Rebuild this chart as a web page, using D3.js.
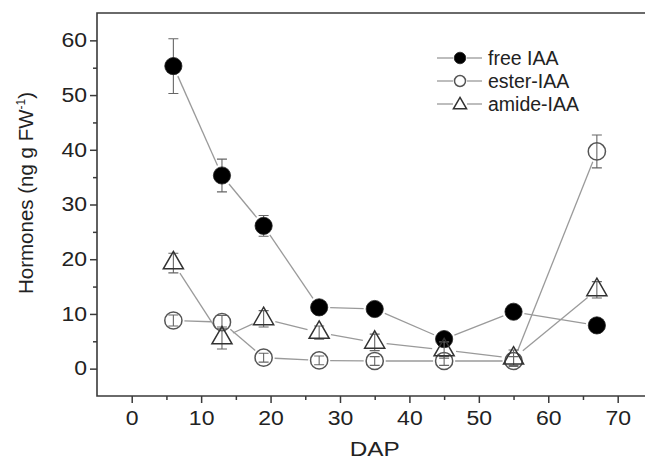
<!DOCTYPE html>
<html lang="en">
<head>
<meta charset="UTF-8">
<title>IAA</title>
<script src="https://cdnjs.cloudflare.com/ajax/libs/d3/7.8.2/d3.min.js"></script>
<style>
    body { margin: 0; background: #fff; }
    svg { display: block; font-family: "Liberation Sans", Arial, sans-serif; }
</style>
</head>
<body>
<div class="container"></div>
<script>
    // data
    let days = [6, 13, 19, 27, 35, 45, 55, 67];
    let freeIAA = [55.3, 35.3, 26.1, 11.2, 10.9, 5.4, 10.4, 7.9];
    let freeErr = [5.0, 3.0, 1.9, 0.8, 0.6, 0.6, 0.6, 0.5];
    let esterIAA = [8.8, 8.5, 2.0, 1.5, 1.4, 1.4, 1.4, 39.7];
    let esterErr = [1.0, 1.2, 0.8, 0.8, 0.8, 0.8, 0.8, 3.0];
    let amideIAA = [19.3, 5.6, 9.1, 6.6, 4.8, 3.4, 1.9, 14.4];
    let amideErr = [1.8, 2.0, 1.5, 1.2, 1.5, 1.5, 1.5, 1.5];
    let seriesNames = ['free IAA', 'ester-IAA', 'amide-IAA'];
    let xTicks = [0, 10, 20, 30, 40, 50, 60, 70];
    let yTicks = [0, 10, 20, 30, 40, 50, 60];

    let width = 645;
    let height = 461;
    let plotLeft = 97, plotTop = 13, plotBottom = 396;

    let svg = d3.select('.container').append('svg')
        .attr('width', width).attr('height', height);

    let xScale = d3.scaleLinear().domain([-5, 75]).range([plotLeft, 652.4]);
    let yScale = d3.scaleLinear().domain([-5, 65]).range([plotBottom, plotTop]);

    const axisColor = '#3a3a3a';
    const lineColor = '#9a9a9a';
    const markColor = '#555';

    // minor ticks
    let xAxisMinor = d3.axisBottom(xScale).tickValues(d3.range(5, 70, 10)).tickSize(4).tickFormat('');
    let yAxisMinor = d3.axisLeft(yScale).tickValues(d3.range(5, 60, 10)).tickSize(4).tickFormat('');
    svg.append('g').attr('transform', `translate(0,${plotBottom})`).call(xAxisMinor);
    svg.append('g').attr('transform', `translate(${plotLeft},0)`).call(yAxisMinor);

    let xAxis = d3.axisBottom(xScale).tickValues(xTicks).tickSize(7).tickPadding(8);
    let yAxis = d3.axisLeft(yScale).tickValues(yTicks).tickSize(7).tickPadding(3);
    svg.append('g').attr('class', 'ax').attr('transform', `translate(0,${plotBottom})`).call(xAxis);
    svg.append('g').attr('class', 'ax').attr('transform', `translate(${plotLeft},0)`).call(yAxis);

    svg.selectAll('.domain').remove();
    svg.selectAll('.tick line').attr('stroke', axisColor).attr('stroke-width', 1.5);
    svg.selectAll('.ax .tick text').attr('font-size', 19.5).attr('fill', '#222')
        .attr('font-family', '"Liberation Sans", Arial, sans-serif')
        .each(function () {
            // the figure's digits are drawn a bit wider than Arial
            let w = this.getComputedTextLength();
            d3.select(this).attr('textLength', w * 1.18).attr('lengthAdjust', 'spacingAndGlyphs');
        });

    // frame: left, bottom, top
    svg.append('path')
        .attr('d', `M${width},${plotTop}H${plotLeft}V${plotBottom}H${width}`)
        .attr('fill', 'none').attr('stroke', axisColor).attr('stroke-width', 1.6);

    // axis titles
    svg.append('text')
        .attr('x', xScale(35)).attr('y', 456)
        .attr('text-anchor', 'middle').attr('font-size', 20).attr('fill', '#222')
        .attr('textLength', 50).attr('lengthAdjust', 'spacingAndGlyphs')
        .text('DAP');

    let yTitle = svg.append('text')
        .attr('transform', 'translate(32.5,193) rotate(-90)')
        .attr('text-anchor', 'middle').attr('font-size', 20.5).attr('fill', '#222');
    yTitle.append('tspan').text('Hormones (ng g FW');
    yTitle.append('tspan').attr('font-size', 12).attr('dy', -8).text('-1');
    yTitle.append('tspan').attr('dy', 8).text(')');

    let series = [
        { name: seriesNames[0], vals: freeIAA, err: freeErr, shape: 'fill', gap: 11 },
        { name: seriesNames[1], vals: esterIAA, err: esterErr, shape: 'circle', gap: 11 },
        { name: seriesNames[2], vals: amideIAA, err: amideErr, shape: 'tri', gap: 12 }
    ];

    // connecting lines with gaps around the symbols
    const gapLine = (g, pts, gap) => {
        for (let i = 0; i < pts.length - 1; i++) {
            let [x1, y1] = pts[i], [x2, y2] = pts[i + 1];
            let dx = x2 - x1, dy = y2 - y1;
            let len = Math.sqrt(dx * dx + dy * dy);
            if (len <= 2 * gap) continue;
            let ux = dx / len, uy = dy / len;
            g.append('line')
                .attr('x1', x1 + ux * gap).attr('y1', y1 + uy * gap)
                .attr('x2', x2 - ux * gap).attr('y2', y2 - uy * gap)
                .attr('stroke', lineColor).attr('stroke-width', 1.3);
        }
    };

    const drawMark = (g, shape, x, y, big) => {
        if (shape === 'fill') {
            g.append('circle').attr('cx', x).attr('cy', y).attr('r', big ? 8.6 : 5.8)
                .attr('fill', '#000').attr('stroke', '#222').attr('stroke-width', 0.8);
        } else if (shape === 'circle') {
            g.append('circle').attr('cx', x).attr('cy', y).attr('r', big ? 8.6 : 5.5)
                .attr('fill', 'none').attr('stroke', markColor).attr('stroke-width', 1.5);
        } else {
            g.append('path')
                .attr('d', d3.symbol(d3.symbolTriangle, big ? 175 : 75)())
                .attr('transform', `translate(${x},${y})`)
                .attr('fill', 'none').attr('stroke', '#333').attr('stroke-width', 1.5);
        }
    };

    let plot = svg.append('g');
    series.forEach(s => {
        let pts = days.map((d, i) => [xScale(d), yScale(s.vals[i])]);
        gapLine(plot, pts, s.gap);
    });

    series.forEach(s => {
        let g = plot.append('g');
        days.forEach((d, i) => {
            let x = xScale(d);
            let yt = yScale(s.vals[i] + s.err[i]), yb = yScale(s.vals[i] - s.err[i]);
            g.append('path')
                .attr('d', `M${x},${yt}V${yb}M${x - 5},${yt}H${x + 5}M${x - 5},${yb}H${x + 5}`)
                .attr('stroke', '#666').attr('stroke-width', 1.1).attr('fill', 'none');
        });
        days.forEach((d, i) => drawMark(g, s.shape, xScale(d), yScale(s.vals[i]), true));
    });

    // legend
    let legend = svg.append('g');
    series.forEach((s, i) => {
        let cy = 58 + i * 23;
        legend.append('line').attr('x1', 437).attr('x2', 453).attr('y1', cy).attr('y2', cy)
            .attr('stroke', lineColor).attr('stroke-width', 1.3);
        legend.append('line').attr('x1', 467).attr('x2', 482).attr('y1', cy).attr('y2', cy)
            .attr('stroke', lineColor).attr('stroke-width', 1.3);
        drawMark(legend, s.shape, 460, cy + (s.shape === 'tri' ? 1 : 0), false);
        legend.append('text').attr('x', 488).attr('y', cy).attr('dy', '0.35em')
            .attr('font-size', 19.5).attr('fill', '#222').text(s.name);
    });
</script>
</body>
</html>
